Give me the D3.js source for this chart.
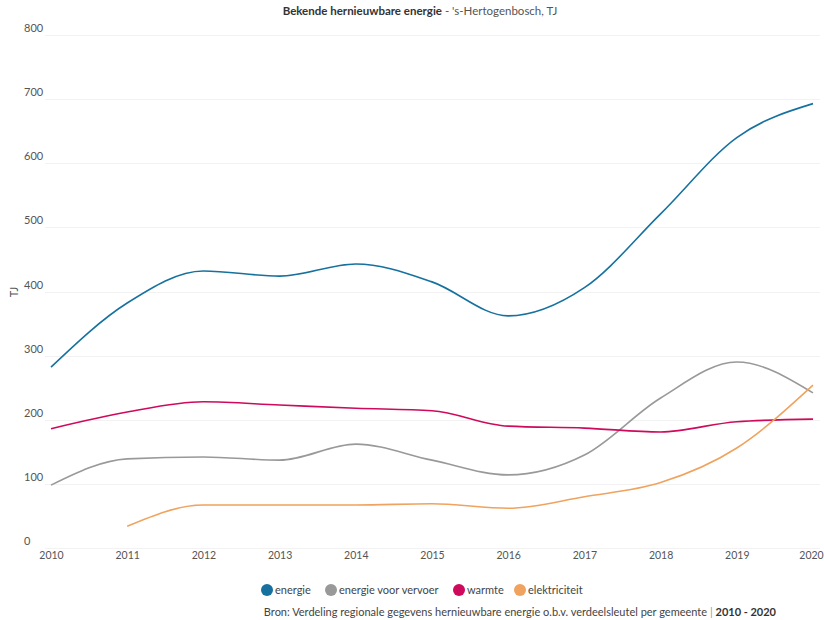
<!DOCTYPE html>
<html>
<head>
<meta charset="utf-8">
<script src="https://cdn.jsdelivr.net/npm/d3@7"></script>
<style>
  html, body { margin: 0; padding: 0; background: #fff; }
  svg { display: block; font-family: "Lato", "Open Sans", sans-serif; }
</style>
</head>
<body>
<svg id="chart" width="824" height="620"></svg>
<script>
// Jaren en waarden (TJ) per reeks
const years = [2010, 2011, 2012, 2013, 2014, 2015, 2016, 2017, 2018, 2019, 2020];
const energie = [282, 382, 432, 424, 443, 415, 362, 406, 521, 640, 693];
const energieVervoer = [98, 139, 142, 137, 162, 137, 114, 145, 234, 290, 242];
const warmte = [186, 212, 228, 223, 218, 214, 190, 187, 181, 197, 201];
const elektriciteit = [null, 34, 67, 67, 67, 69, 62, 80, 102, 156, 254];
const yTicks = [0, 100, 200, 300, 400, 500, 600, 700, 800];

const seriesNames = ["energie", "energie voor vervoer", "warmte", "elektriciteit"];
const seriesColors = ["#16719f", "#999999", "#cf0a5c", "#f0a35e"];
const seriesValues = [energie, energieVervoer, warmte, elektriciteit];

const svg = d3.select("#chart");

const x = d3.scaleLinear().domain([2010, 2020]).range([51, 813]);
const y = d3.scaleLinear().domain([0, 800]).range([548, 35]);

// Horizontale rasterlijnen
svg.append("g")
  .selectAll("line")
  .data(yTicks)
  .join("line")
  .attr("x1", 45).attr("x2", 820)
  .attr("y1", d => Math.round(y(d)) + 0.5)
  .attr("y2", d => Math.round(y(d)) + 0.5)
  .attr("stroke", "#f2f2f2")
  .attr("stroke-width", 1);

// Y-as labels
const yAxis = d3.axisLeft(y).tickValues(yTicks).tickSize(0).tickPadding(0);
const gy = svg.append("g").attr("transform", "translate(24,-7)").call(yAxis);
gy.select(".domain").remove();
gy.selectAll("text")
  .attr("text-anchor", "start")
  .attr("font-size", 11)
  .attr("font-family", "Lato, 'Open Sans', sans-serif")
  .attr("fill", "#555");

// Y-as titel
svg.append("text")
  .attr("transform", "translate(18,292) rotate(-90)")
  .attr("text-anchor", "middle")
  .attr("font-size", 11)
  .attr("fill", "#555")
  .text("TJ");

// X-as labels
const xAxis = d3.axisBottom(x).tickValues(years).tickFormat(d3.format("d")).tickSize(0).tickPadding(0);
const gx = svg.append("g").attr("transform", "translate(0,552)").call(xAxis);
gx.select(".domain").remove();
gx.selectAll("text")
  .attr("font-size", 10.5)
  .attr("font-family", "Lato, 'Open Sans', sans-serif")
  .attr("fill", "#555");
// laatste label iets naar links zodat het binnen de rand valt
gx.selectAll(".tick").filter(d => d === 2020).select("text").attr("dx", -2);

// Lijnen
const line = d3.line()
  .defined(d => d.v !== null)
  .x(d => x(d.year))
  .y(d => y(d.v))
  .curve(d3.curveMonotoneX);

svg.append("g")
  .selectAll("path")
  .data(seriesValues.map((vals, i) => ({
    color: seriesColors[i],
    points: years.map((yr, j) => ({ year: yr, v: vals[j] }))
  })))
  .join("path")
  .attr("d", d => line(d.points))
  .attr("fill", "none")
  .attr("stroke", d => d.color)
  .attr("stroke-width", 1.6)
  .attr("stroke-linejoin", "round");

// Titel
const title = svg.append("text")
  .attr("x", 420).attr("y", 15)
  .attr("text-anchor", "middle")
  .attr("font-size", 11.5)
  .attr("fill", "#333");
title.append("tspan").attr("font-weight", "bold").text("Bekende hernieuwbare energie");
title.append("tspan").attr("fill", "#555").text(" - 's-Hertogenbosch, TJ");

// Legenda
const legendX = [267, 331, 459, 520];
const legend = svg.append("g")
  .selectAll("g")
  .data(seriesNames)
  .join("g")
  .attr("transform", (d, i) => `translate(${legendX[i]},590)`);
legend.append("circle")
  .attr("r", 6)
  .attr("fill", (d, i) => seriesColors[i]);
legend.append("text")
  .attr("x", 8).attr("y", 4)
  .attr("font-size", 11)
  .attr("fill", "#444")
  .text(d => d);

// Bronvermelding
const source = svg.append("text")
  .attr("x", 776).attr("y", 616)
  .attr("text-anchor", "end")
  .attr("font-size", 11)
  .attr("fill", "#444");
source.append("tspan").text("Bron: Verdeling regionale gegevens hernieuwbare energie o.b.v. verdeelsleutel per gemeente ");
source.append("tspan").attr("fill", "#999").text("| ");
source.append("tspan").attr("font-weight", "bold").attr("fill", "#333").text("2010 - 2020");
</script>
</body>
</html>
